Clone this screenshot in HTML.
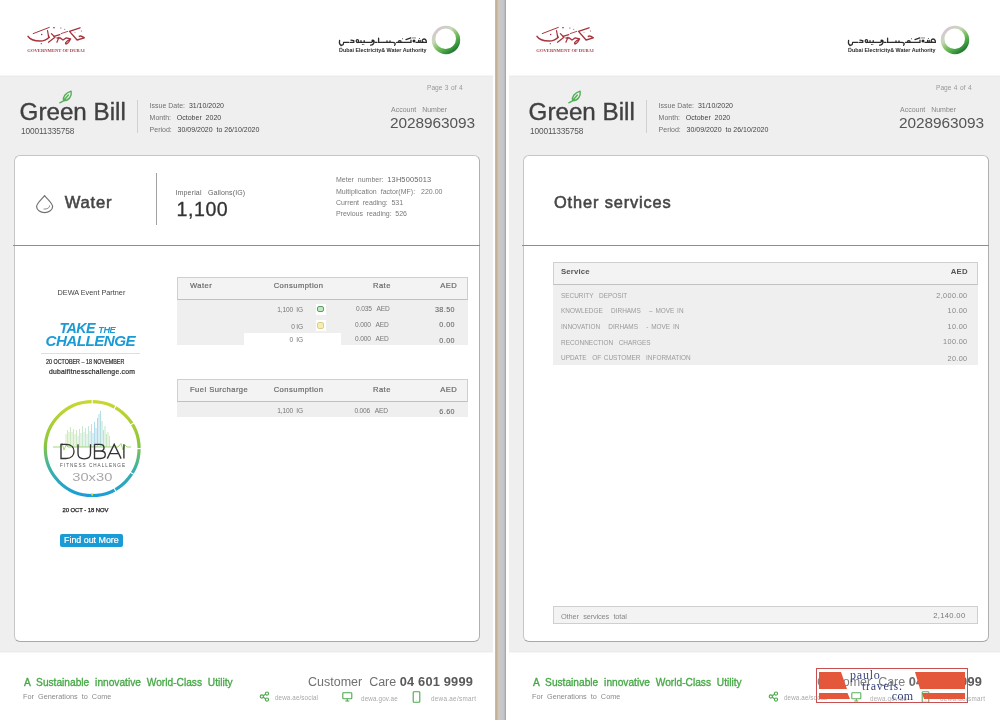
<!DOCTYPE html>
<html><head><meta charset="utf-8"><style>
*{margin:0;padding:0;box-sizing:border-box}
html,body{width:1000px;height:720px;overflow:hidden;background:#fff;font-family:"Liberation Sans",sans-serif}
.root{position:absolute;left:0;top:0;width:1000px;height:720px;overflow:hidden;background:#fff;will-change:transform}
.pg{position:absolute;top:0;width:493px;height:720px;background:#fff}
.a{position:absolute;white-space:nowrap;line-height:1}
.band{position:absolute;left:0;top:75px;width:493px;height:578px;background:linear-gradient(#f6f6f6 0,#f6f6f6 1px,#ebebeb 1px,#ebebeb 2px,#efefef 2px,#efefef 576px,#ebebeb 576px,#ebebeb 577px,#f6f6f6 577px)}
.card{position:absolute;left:14px;top:155.2px;width:465.6px;height:486.4px;background:#fff;border:1.5px solid #c6c6c6;border-right-color:#b0b0b0;border-bottom-color:#a8a8a8;border-radius:6px}
.hline{position:absolute;left:13px;top:245px;width:467px;height:1px;background:#8e8e8e}
.divider{position:absolute;left:495px;top:0;width:11.2px;height:720px;background:linear-gradient(to right,#d6cbbd 0,#c2ae94 0.8px,#c6b299 2px,#cfc4b6 3px,#cdcac6 3.8px,#c9c9cb 5px,#c4c5c8 8.5px,#bdbec2 9.4px,#a7a8ad 10.2px,#a9aaae 10.8px,#dde2e4 11.2px)}
.th{position:absolute;left:177px;width:290.6px;height:22.6px;background:#f3f3f3;border:1px solid #cfcfcf;border-bottom:1.5px solid #c0c0c0}
.tb{position:absolute;left:177px;width:290.6px;background:#efefef}
.ht{font-size:7.6px;color:#6a6a6a;letter-spacing:0.45px;-webkit-text-stroke:0.2px #6a6a6a}
.rt{font-size:6.6px;color:#777;letter-spacing:-0.15px}
.am{font-size:7.2px;color:#606060;letter-spacing:0.42px;-webkit-text-stroke:0.05px #606060}
.ic{position:absolute;left:315.5px;width:10px;height:11px;background:#fff}
.ic i{position:absolute;left:1.8px;top:2px;width:6.4px;height:6.6px;border:1.4px solid;border-radius:2px}
.sv{left:52px;font-size:7.9px;color:#9a9a9a;letter-spacing:0px;word-spacing:1.2px;transform:scaleX(0.815);transform-origin:0 0}
.sa{right:34.5px;font-size:7.3px;color:#888;letter-spacing:0.35px}
</style></head><body>
<div class="root">
<div class="divider"></div>
<div class="pg" style="left:0px">
  <div class="band"></div>
  <div class="card"></div>
  <div class="hline"></div>
  <svg class="a" style="left:20px;top:20px" width="75" height="38" viewBox="20 20 75 38">
  <g fill="none" stroke="#a8343e" stroke-linecap="round" stroke-linejoin="round">
   <path d="M28,36.3 C30,39.5 34,40.8 40.2,41.1 C44,41 46.5,39.8 49.3,37.2" stroke-width="1.5"/>
   <path d="M33.2,33.6 L49.3,27.4" stroke-width="1"/>
   <path d="M47.5,30.7 L48.8,37.4" stroke-width="1.2"/>
   <path d="M51.4,33.6 L55,37.2 L48.5,42.2" stroke-width="1.3"/>
   <path d="M54,36.4 L59.8,34.6 M59,37.2 L56.9,42.2" stroke-width="1.2"/>
   <path d="M57,38 L60.1,37.9 L63,40 L66.3,37.9 L70.6,39 C69,42 67,44 65.9,44 C64.8,43.5 66,41.2 70.6,39" stroke-width="1.3"/>
   <path d="M80,27.8 L69.5,31.4 L77.1,40 L84.3,37.9 C82,36 80,35.8 79.3,36.4" stroke-width="1.4"/>
   <path d="M61.2,33.6 L67.7,31.4" stroke-width="0.9"/>
  </g>
  <g fill="#9e2a36"><circle cx="41.7" cy="34.5" r="0.75"/><circle cx="54" cy="27.8" r="0.7"/><circle cx="41.3" cy="43.7" r="0.6"/><circle cx="54" cy="27.4" r="0.5"/><circle cx="60.9" cy="28" r="0.6"/><circle cx="64.8" cy="29.2" r="0.5"/><circle cx="81.4" cy="31" r="0.5"/><circle cx="75" cy="32.5" r="0.4"/><circle cx="48.5" cy="36" r="0.8"/></g>
  <text x="56" y="52" text-anchor="middle" font-family="Liberation Serif" font-weight="bold" font-size="4.5" fill="#a8404a" textLength="57.4" lengthAdjust="spacingAndGlyphs">GOVERNMENT OF DUBAI</text>
</svg>
  <svg class="a" style="left:330px;top:18px" width="140" height="44" viewBox="330 18 140 44">
  <g fill="none" stroke="#2c2c2c" stroke-linecap="round" stroke-linejoin="round" stroke-width="1.3">
   <path d="M339.6,40.3 C339,43.5 340,45.6 342.2,45.2 C343.4,44.9 343.6,43.6 343.6,42.4 L349,42.4"/>
   <path d="M351,40.2 L353.8,40.6 L353.8,42.4 L350.6,42.4"/>
   <ellipse cx="357.4" cy="41.1" rx="1.2" ry="1.4"/>
   <path d="M358.6,42.4 L371.5,42.4 M361,42.4 L361,40.6 M364.2,42.4 L364.2,40.6"/>
   <path d="M374.1,41 C374.1,43.6 373,45 370.6,45.2"/>
   <path d="M378.6,38.2 L378.6,42.4 L384,42.4 M377,42.4 L375,42.4"/>
   <path d="M384,42.4 L392.6,42.4 C395,42.4 396,43.6 394.6,45.3 M387,42.4 L387,40.8 M390,42.4 L390,40.8"/>
   <path d="M396.6,42.4 L411,42.4 L411,40.2 M398.4,42.4 C398.4,40 401.2,40 401.2,42.4 M406,39.6 L410.8,37.9"/>
   <path d="M416,42.4 L426.4,42.4 M418.6,42.4 L418.6,40.4 M420.2,42.4 L420.2,40.4 M426.4,42.4 C426.6,39.4 424.4,38.3 422.8,39.6 C421.6,40.6 422.2,42.4 424.2,42.4"/>
  </g>
  <g fill="#222"><circle cx="372.8" cy="41" r="1.4"/><circle cx="414" cy="41" r="1.5"/><circle cx="413" cy="37.9" r="0.55"/><circle cx="415" cy="37.9" r="0.55"/><circle cx="362.4" cy="44.6" r="0.5"/><circle cx="363.8" cy="44.6" r="0.5"/><circle cx="341" cy="47" r="0.45"/><circle cx="419.4" cy="38.6" r="0.5"/><circle cx="402.6" cy="38.8" r="0.5"/></g>
  <text x="339" y="52" font-family="Liberation Sans" font-weight="bold" font-size="5.9" fill="#2a2a2a" textLength="87.6" lengthAdjust="spacingAndGlyphs">Dubai Electricity&amp; Water Authority</text>
  <defs>
   <linearGradient id="rgL" x1="0.15" y1="0.1" x2="0.8" y2="0.95">
    <stop offset="0" stop-color="#d8c4d6"/><stop offset="0.3" stop-color="#c8d8b8"/><stop offset="0.55" stop-color="#7cc060"/><stop offset="0.8" stop-color="#3c9a40"/><stop offset="1" stop-color="#1a6a2c"/>
   </linearGradient>
  </defs>
  <path fill-rule="evenodd" d="M431.8,40 A14.2,14.2 0 1 0 460.2,40 A14.2,14.2 0 1 0 431.8,40 Z M435.4,38.7 A10.3,10.3 0 1 0 456,38.7 A10.3,10.3 0 1 0 435.4,38.7 Z" fill="url(#rgL)"/>
</svg>
  <svg class="a" style="left:58px;top:89.8px" width="15.3" height="14.4" viewBox="0 0 17 16"><path d="M2,14.2 L6.2,12 M6.2,12 C5.2,7.5 8.5,3 14.6,1.3 C15.6,6.8 12.2,11.8 6.2,12 Z M6.6,11.4 L11.5,5.6" fill="none" stroke="#52b056" stroke-width="1.55" stroke-linecap="round" stroke-linejoin="round"/></svg>
  <div class="a" style="left:19.6px;top:100.3px;font-size:24.2px;color:#404040;-webkit-text-stroke:0.35px #404040">Green Bill</div>
  <div class="a" style="left:21px;top:127px;font-size:8.3px;color:#555;letter-spacing:-0.12px">100011335758</div>
  <div class="a" style="left:136.5px;top:100px;width:1px;height:33px;background:#d0d0d0"></div>
  <div class="a" style="left:149.6px;top:102px;font-size:7px;color:#707070">Issue Date:&nbsp; <span style="color:#444">31/10/2020</span></div>
  <div class="a" style="left:149.6px;top:114px;font-size:7px;color:#707070">Month:&nbsp;&nbsp; <span style="color:#444">October&nbsp; 2020</span></div>
  <div class="a" style="left:149.6px;top:126px;font-size:7px;color:#707070">Period:&nbsp;&nbsp; <span style="color:#444">30/09/2020&nbsp; to 26/10/2020</span></div>
  <div class="a" style="left:427px;top:84.6px;font-size:6.6px;color:#999;word-spacing:-0.6px">Page&nbsp; 3&nbsp; of&nbsp; 4</div>
  <div class="a" style="left:391px;top:105.9px;font-size:7px;color:#888">Account&nbsp;&nbsp; Number</div>
  <div class="a" style="left:390px;top:115px;font-size:15.4px;color:#555;letter-spacing:-0.05px">2028963093</div>

  <svg class="a" style="left:35px;top:193.8px" width="20" height="20" viewBox="0 0 20 20"><path d="M9.6,1.6 C6.4,5.6 1.6,9.3 1.6,12.6 A8,6 0 0 0 17.6,12.6 C17.6,9.3 12.8,5.6 9.6,1.6 Z" fill="none" stroke="#727272" stroke-width="1.2"/><path d="M14.6,11.4 C14.6,13.8 12.4,15.3 8.6,15" fill="none" stroke="#8a8a8a" stroke-width="1"/></svg>
  <div class="a" style="left:64.8px;top:194.6px;font-size:16.6px;color:#454545;-webkit-text-stroke:0.55px #454545;letter-spacing:0.75px">Water</div>
  <div class="a" style="left:155.7px;top:172.5px;width:1.5px;height:52px;background:#a3a3a3"></div>
  <div class="a" style="left:175.5px;top:189px;font-size:7px;color:#666;letter-spacing:0.15px">Imperial&nbsp;&nbsp; Gallons(IG)</div>
  <div class="a" style="left:176.5px;top:199.5px;font-size:19.6px;color:#333;letter-spacing:0.55px;-webkit-text-stroke:0.3px #333">1,100</div>
  <div class="a" style="left:336px;top:176.3px;font-size:7px;color:#7a7a7a;line-height:1">Meter&nbsp; number:&nbsp; <span style="font-size:7.4px;color:#666;letter-spacing:0.15px">13H5005013</span></div>
  <div class="a" style="left:336px;top:187.8px;font-size:7px;color:#7a7a7a;letter-spacing:0.02px">Multiplication&nbsp; factor(MF):&nbsp;&nbsp; 220.00</div>
  <div class="a" style="left:336px;top:199px;font-size:7px;color:#7a7a7a;letter-spacing:-0.05px">Current&nbsp; reading:&nbsp; 531</div>
  <div class="a" style="left:336px;top:210.2px;font-size:7px;color:#7a7a7a;letter-spacing:-0.05px">Previous&nbsp; reading:&nbsp; 526</div>

  <!-- promo -->
  <div class="a" style="left:57.5px;top:289px;font-size:7.3px;color:#444">DEWA Event Partner</div>
  <div class="a" style="left:59.5px;top:320.5px;font-size:14.3px;font-weight:bold;font-style:italic;color:#1b9bd5;letter-spacing:-0.6px">TAKE <span style="font-size:9.2px;letter-spacing:-0.5px">THE</span></div>
  <div class="a" style="left:45.5px;top:333px;font-size:15.2px;font-weight:bold;font-style:italic;color:#1b9bd5;letter-spacing:-0.55px">CHALLENGE</div>
  <div class="a" style="left:41px;top:352.5px;width:99px;height:1px;background:#dfe6b5"></div>
  <div class="a" style="left:45.5px;top:359.1px;font-size:6.3px;color:#2a2a2a;-webkit-text-stroke:0.2px #2a2a2a;letter-spacing:0px;transform:scaleX(0.855);transform-origin:0 0">20 OCTOBER &#8211; 18 NOVEMBER</div>
  <div class="a" style="left:49px;top:368.6px;font-size:6.8px;color:#2a2a2a;-webkit-text-stroke:0.2px #2a2a2a;letter-spacing:0.24px">dubaifitnesschallenge.com</div>

  <svg class="a" style="left:40px;top:396px" width="105" height="105" viewBox="0 0 105 105">
   <defs>
    <linearGradient id="dg" x1="0" y1="0" x2="0" y2="1"><stop offset="0" stop-color="#c9d72f"/><stop offset="0.45" stop-color="#8cc63f"/><stop offset="0.7" stop-color="#3cb3a4"/><stop offset="1" stop-color="#1b9dd8"/></linearGradient>
    <linearGradient id="eqg" x1="0" y1="0" x2="1" y2="0"><stop offset="0" stop-color="#8ccc50"/><stop offset="0.5" stop-color="#7cc6a0"/><stop offset="0.7" stop-color="#2aa0dc"/><stop offset="1" stop-color="#8ccc50"/></linearGradient>
   </defs>
   <circle cx="52.2" cy="52.6" r="46.9" fill="none" stroke="url(#dg)" stroke-width="3.2"/>
   <g stroke="#fff" stroke-width="1.1">
    <path d="M52.2,2 L52.2,8"/><path d="M76.6,8.5 L73.6,13.7"/><path d="M94.5,26.4 L89.3,29.4"/><path d="M101,52.6 L95,52.6"/><path d="M94.5,78.8 L89.3,75.8"/><path d="M76.6,96.7 L73.6,91.5"/>
   </g>
   <path d="M50.6,97.5 L53.8,97.5 L52.2,100.5 Z" fill="#c9d72f"/>
   <g stroke="url(#eqg)" stroke-width="0.55" opacity="0.75">
    <path d="M26,51 L26,38 M27.5,51 L27.5,34 M29,51 L29,36 M30.5,51 L30.5,31 M32,51 L32,36 M33.5,51 L33.5,33 M35,51 L35,38 M36.5,51 L36.5,34 M38,51 L38,40 M39.5,51 L39.5,33 M41,51 L41,37 M42.5,51 L42.5,30 M44,51 L44,36 M45.5,51 L45.5,32 M47,51 L47,38 M48.5,51 L48.5,30 M50,51 L50,35 M51.5,51 L51.5,28 M53,51 L53,37 M54.5,51 L54.5,26 M56,51 L56,32 M57.5,51 L57.5,22 M59,51 L59,18 M60.5,51 L60.5,15 M62,51 L62,25 M63.5,51 L63.5,34 M65,51 L65,30 M66.5,51 L66.5,38 M68,51 L68,36 M69.5,51 L69.5,40"/>
   </g>
   <path d="M13,51 L20,51 L22,47 L24,54 L26,49 L28,51 L78,51 L81,47.5 L83,54 L85,49 L87,51 L91,51" fill="none" stroke="#8ccc50" stroke-width="0.8"/>
   <g fill="none" stroke="#333" stroke-width="1.35" stroke-linejoin="miter">
    <path d="M21,48.3 L21,62.5 L26,62.5 C31.5,62.5 34,59 34,55.4 C34,51.8 31.5,48.3 26,48.3 Z"/>
    <path d="M38,48.3 L38,57.5 C38,61 40.5,62.8 44.2,62.8 C48,62.8 50.5,61 50.5,57.5 L50.5,48.3"/>
    <path d="M54.5,48.3 L54.5,62.5 L60.5,62.5 C63.5,62.5 65.3,61 65.3,58.6 C65.3,56.3 63.5,55 60.5,55 L54.5,55 M54.5,55 L60,55 C62.5,55 64,53.7 64,51.7 C64,49.6 62.5,48.3 60,48.3 L54.5,48.3"/>
    <path d="M67.3,62.6 L74.2,48.3 L81.1,62.6 M69.8,57.6 L78.6,57.6"/>
    <path d="M83.9,48.3 L83.9,62.6"/>
   </g>
   <text x="52.5" y="71.2" text-anchor="middle" font-family="Liberation Sans" font-size="4.6" fill="#555" textLength="65" lengthAdjust="spacing">FITNESS CHALLENGE</text>
   <text x="52.3" y="85.4" text-anchor="middle" font-family="Liberation Sans" font-size="11.3" fill="#a8a8a8" textLength="40" lengthAdjust="spacingAndGlyphs">30x30</text>
  </svg>
  <div class="a" style="left:62.5px;top:507.8px;font-size:5.9px;color:#222;-webkit-text-stroke:0.25px #222;letter-spacing:-0.05px">20 OCT - 18 NOV</div>
  <div class="a" style="left:59.7px;top:533.6px;width:63.6px;height:13.4px;background:#1b9bd5;border-radius:2px"></div>
  <div class="a" style="left:64px;top:536.3px;font-size:8.9px;color:#fff;-webkit-text-stroke:0.2px #fff;letter-spacing:0px">Find out More</div>

  <!-- water table -->
  <div class="th" style="top:277px"></div>
  <div class="tb" style="top:300px;height:45.3px"></div>
  <div class="a" style="left:243.6px;top:333.2px;width:97.5px;height:12.1px;background:#fff"></div>
  <div class="a ht" style="left:190px;top:282px">Water</div>
  <div class="a ht" style="left:273.7px;top:282px">Consumption</div>
  <div class="a ht" style="left:373px;top:282px">Rate</div>
  <div class="a ht" style="left:440.3px;top:282px">AED</div>
  <div class="a rt" style="right:190px;top:307px">1,100&nbsp; IG</div>
  <div class="a rt" style="right:190px;top:324px">0 IG</div>
  <div class="a rt" style="right:190px;top:336.5px">0&nbsp; IG</div>
  <div class="ic" style="top:303.5px"><i style="border-color:#5e9c6c;background:#bdebbd"></i></div>
  <div class="ic" style="top:320px"><i style="border-color:#d9cf8c;background:#f6eeb0"></i></div>
  <div class="a rt" style="left:356px;top:306px">0.035&nbsp;&nbsp; AED</div>
  <div class="a rt" style="left:355px;top:321.5px">0.000&nbsp;&nbsp; AED</div>
  <div class="a rt" style="left:355px;top:335.5px">0.000&nbsp;&nbsp; AED</div>
  <div class="a am" style="right:38px;top:305.5px">38.50</div>
  <div class="a am" style="right:38px;top:321px">0.00</div>
  <div class="a am" style="right:38px;top:336.5px">0.00</div>

  <!-- fuel table -->
  <div class="th" style="top:379px"></div>
  <div class="tb" style="top:401.5px;height:15.4px"></div>
  <div class="a ht" style="left:190px;top:385.5px">Fuel Surcharge</div>
  <div class="a ht" style="left:273.7px;top:385.5px">Consumption</div>
  <div class="a ht" style="left:373px;top:385.5px">Rate</div>
  <div class="a ht" style="left:440.3px;top:385.5px">AED</div>
  <div class="a rt" style="right:190px;top:408px">1,100&nbsp; IG</div>
  <div class="a rt" style="left:354.4px;top:408px">0.006&nbsp;&nbsp; AED</div>
  <div class="a am" style="right:38px;top:407.5px">6.60</div>

  <div class="a" style="left:23.8px;top:676.6px;font-size:11.3px;color:#46a846;-webkit-text-stroke:0.35px #46a846;letter-spacing:0px;word-spacing:3.4px;transform:scaleX(0.9);transform-origin:0 0">A Sustainable innovative World-Class Utility</div>
  <div class="a" style="left:23px;top:693px;font-size:7.3px;color:#8a8a8a;word-spacing:2px">For Generations to Come</div>
  <div class="a" style="left:308px;top:675.5px;font-size:12.5px;color:#707070">Customer&nbsp; Care <span style="font-weight:bold;color:#5a5a5a;font-size:12.8px;letter-spacing:0.2px">04 601 9999</span></div>
  <svg class="a" style="left:259px;top:691px" width="11" height="11" viewBox="0 0 11 11"><g fill="none" stroke="#4aa84a" stroke-width="1.1"><circle cx="2.8" cy="5.5" r="1.6"/><circle cx="8" cy="2.6" r="1.6"/><circle cx="8" cy="8.6" r="1.6"/><path d="M4.2,4.7 L6.6,3.3 M4.2,6.3 L6.6,7.8"/></g></svg>
  <div class="a" style="left:275px;top:695.3px;font-size:6.3px;color:#a8a8a8;letter-spacing:0.1px">dewa.ae/social</div>
  <svg class="a" style="left:342px;top:692px" width="11" height="10" viewBox="0 0 11 10"><g fill="none" stroke="#4aa84a" stroke-width="1.1"><rect x="0.8" y="0.8" width="9" height="6" rx="0.8"/><path d="M5.3,7 L5.3,8.8 M3.3,9 L7.3,9"/></g></svg>
  <div class="a" style="left:361px;top:695.8px;font-size:6.3px;color:#a8a8a8;letter-spacing:0.15px">dewa.gov.ae</div>
  <svg class="a" style="left:412px;top:690.5px" width="9" height="12" viewBox="0 0 9 12"><g fill="none" stroke="#4aa84a" stroke-width="1.1"><rect x="1.2" y="0.8" width="6.6" height="10.4" rx="0.8"/><path d="M4.5,9.2 L4.5,9.4"/></g></svg>
  <div class="a" style="left:431px;top:695.8px;font-size:6.3px;color:#a8a8a8;letter-spacing:0.3px">dewa.ae/smart</div>
</div>
<div class="pg" style="left:509px">
  <div class="band"></div>
  <div class="card"></div>
  <div class="hline"></div>
  <svg class="a" style="left:20px;top:20px" width="75" height="38" viewBox="20 20 75 38">
  <g fill="none" stroke="#a8343e" stroke-linecap="round" stroke-linejoin="round">
   <path d="M28,36.3 C30,39.5 34,40.8 40.2,41.1 C44,41 46.5,39.8 49.3,37.2" stroke-width="1.5"/>
   <path d="M33.2,33.6 L49.3,27.4" stroke-width="1"/>
   <path d="M47.5,30.7 L48.8,37.4" stroke-width="1.2"/>
   <path d="M51.4,33.6 L55,37.2 L48.5,42.2" stroke-width="1.3"/>
   <path d="M54,36.4 L59.8,34.6 M59,37.2 L56.9,42.2" stroke-width="1.2"/>
   <path d="M57,38 L60.1,37.9 L63,40 L66.3,37.9 L70.6,39 C69,42 67,44 65.9,44 C64.8,43.5 66,41.2 70.6,39" stroke-width="1.3"/>
   <path d="M80,27.8 L69.5,31.4 L77.1,40 L84.3,37.9 C82,36 80,35.8 79.3,36.4" stroke-width="1.4"/>
   <path d="M61.2,33.6 L67.7,31.4" stroke-width="0.9"/>
  </g>
  <g fill="#9e2a36"><circle cx="41.7" cy="34.5" r="0.75"/><circle cx="54" cy="27.8" r="0.7"/><circle cx="41.3" cy="43.7" r="0.6"/><circle cx="54" cy="27.4" r="0.5"/><circle cx="60.9" cy="28" r="0.6"/><circle cx="64.8" cy="29.2" r="0.5"/><circle cx="81.4" cy="31" r="0.5"/><circle cx="75" cy="32.5" r="0.4"/><circle cx="48.5" cy="36" r="0.8"/></g>
  <text x="56" y="52" text-anchor="middle" font-family="Liberation Serif" font-weight="bold" font-size="4.5" fill="#a8404a" textLength="57.4" lengthAdjust="spacingAndGlyphs">GOVERNMENT OF DUBAI</text>
</svg>
  <svg class="a" style="left:330px;top:18px" width="140" height="44" viewBox="330 18 140 44">
  <g fill="none" stroke="#2c2c2c" stroke-linecap="round" stroke-linejoin="round" stroke-width="1.3">
   <path d="M339.6,40.3 C339,43.5 340,45.6 342.2,45.2 C343.4,44.9 343.6,43.6 343.6,42.4 L349,42.4"/>
   <path d="M351,40.2 L353.8,40.6 L353.8,42.4 L350.6,42.4"/>
   <ellipse cx="357.4" cy="41.1" rx="1.2" ry="1.4"/>
   <path d="M358.6,42.4 L371.5,42.4 M361,42.4 L361,40.6 M364.2,42.4 L364.2,40.6"/>
   <path d="M374.1,41 C374.1,43.6 373,45 370.6,45.2"/>
   <path d="M378.6,38.2 L378.6,42.4 L384,42.4 M377,42.4 L375,42.4"/>
   <path d="M384,42.4 L392.6,42.4 C395,42.4 396,43.6 394.6,45.3 M387,42.4 L387,40.8 M390,42.4 L390,40.8"/>
   <path d="M396.6,42.4 L411,42.4 L411,40.2 M398.4,42.4 C398.4,40 401.2,40 401.2,42.4 M406,39.6 L410.8,37.9"/>
   <path d="M416,42.4 L426.4,42.4 M418.6,42.4 L418.6,40.4 M420.2,42.4 L420.2,40.4 M426.4,42.4 C426.6,39.4 424.4,38.3 422.8,39.6 C421.6,40.6 422.2,42.4 424.2,42.4"/>
  </g>
  <g fill="#222"><circle cx="372.8" cy="41" r="1.4"/><circle cx="414" cy="41" r="1.5"/><circle cx="413" cy="37.9" r="0.55"/><circle cx="415" cy="37.9" r="0.55"/><circle cx="362.4" cy="44.6" r="0.5"/><circle cx="363.8" cy="44.6" r="0.5"/><circle cx="341" cy="47" r="0.45"/><circle cx="419.4" cy="38.6" r="0.5"/><circle cx="402.6" cy="38.8" r="0.5"/></g>
  <text x="339" y="52" font-family="Liberation Sans" font-weight="bold" font-size="5.9" fill="#2a2a2a" textLength="87.6" lengthAdjust="spacingAndGlyphs">Dubai Electricity&amp; Water Authority</text>
  <defs>
   <linearGradient id="rgR" x1="0.15" y1="0.1" x2="0.8" y2="0.95">
    <stop offset="0" stop-color="#d8c4d6"/><stop offset="0.3" stop-color="#c8d8b8"/><stop offset="0.55" stop-color="#7cc060"/><stop offset="0.8" stop-color="#3c9a40"/><stop offset="1" stop-color="#1a6a2c"/>
   </linearGradient>
  </defs>
  <path fill-rule="evenodd" d="M431.8,40 A14.2,14.2 0 1 0 460.2,40 A14.2,14.2 0 1 0 431.8,40 Z M435.4,38.7 A10.3,10.3 0 1 0 456,38.7 A10.3,10.3 0 1 0 435.4,38.7 Z" fill="url(#rgR)"/>
</svg>
  <svg class="a" style="left:58px;top:89.8px" width="15.3" height="14.4" viewBox="0 0 17 16"><path d="M2,14.2 L6.2,12 M6.2,12 C5.2,7.5 8.5,3 14.6,1.3 C15.6,6.8 12.2,11.8 6.2,12 Z M6.6,11.4 L11.5,5.6" fill="none" stroke="#52b056" stroke-width="1.55" stroke-linecap="round" stroke-linejoin="round"/></svg>
  <div class="a" style="left:19.6px;top:100.3px;font-size:24.2px;color:#404040;-webkit-text-stroke:0.35px #404040">Green Bill</div>
  <div class="a" style="left:21px;top:127px;font-size:8.3px;color:#555;letter-spacing:-0.12px">100011335758</div>
  <div class="a" style="left:136.5px;top:100px;width:1px;height:33px;background:#d0d0d0"></div>
  <div class="a" style="left:149.6px;top:102px;font-size:7px;color:#707070">Issue Date:&nbsp; <span style="color:#444">31/10/2020</span></div>
  <div class="a" style="left:149.6px;top:114px;font-size:7px;color:#707070">Month:&nbsp;&nbsp; <span style="color:#444">October&nbsp; 2020</span></div>
  <div class="a" style="left:149.6px;top:126px;font-size:7px;color:#707070">Period:&nbsp;&nbsp; <span style="color:#444">30/09/2020&nbsp; to 26/10/2020</span></div>
  <div class="a" style="left:427px;top:84.6px;font-size:6.6px;color:#999;word-spacing:-0.6px">Page&nbsp; 4&nbsp; of&nbsp; 4</div>
  <div class="a" style="left:391px;top:105.9px;font-size:7px;color:#888">Account&nbsp;&nbsp; Number</div>
  <div class="a" style="left:390px;top:115px;font-size:15.4px;color:#555;letter-spacing:-0.05px">2028963093</div>

  <div class="a" style="left:45px;top:194.3px;font-size:16.4px;color:#454545;-webkit-text-stroke:0.55px #454545;letter-spacing:0.85px">Other services</div>
  <div class="a" style="left:44.3px;top:262px;width:425.2px;height:23px;background:#f3f3f3;border:1px solid #cfcfcf;border-bottom:1.5px solid #c2c2c2"></div>
  <div class="a" style="left:44.3px;top:285px;width:425.2px;height:79.6px;background:#efefef"></div>
  <div class="a" style="left:52px;top:268.3px;font-size:7.8px;font-weight:bold;color:#555;letter-spacing:0.15px">Service</div>
  <div class="a" style="right:34.2px;top:268.3px;font-size:7.8px;font-weight:bold;color:#555;letter-spacing:0.2px">AED</div>
  <div class="a sv" style="top:291.8px">SECURITY&nbsp; DEPOSIT</div>
  <div class="a sv" style="top:307.2px">KNOWLEDGE&nbsp;&nbsp; DIRHAMS&nbsp;&nbsp; &#8211; MOVE IN</div>
  <div class="a sv" style="top:323.2px">INNOVATION&nbsp;&nbsp; DIRHAMS&nbsp;&nbsp; - MOVE IN</div>
  <div class="a sv" style="top:338.7px">RECONNECTION&nbsp; CHARGES</div>
  <div class="a sv" style="top:354.2px">UPDATE&nbsp; OF CUSTOMER&nbsp; INFORMATION</div>
  <div class="a sa" style="top:291.5px">2,000.00</div>
  <div class="a sa" style="top:307px">10.00</div>
  <div class="a sa" style="top:322.5px">10.00</div>
  <div class="a sa" style="top:338px">100.00</div>
  <div class="a sa" style="top:355px">20.00</div>
  <div class="a" style="left:44.3px;top:606px;width:425.2px;height:17.6px;background:#f3f3f3;border:1px solid #cfcfcf"></div>
  <div class="a" style="left:52px;top:612.7px;font-size:7.4px;color:#888;letter-spacing:-0.15px;word-spacing:2.5px">Other services total</div>
  <div class="a" style="right:36.5px;top:612.3px;font-size:7.6px;color:#777;letter-spacing:0.35px">2,140.00</div>

  <div class="a" style="left:23.8px;top:676.6px;font-size:11.3px;color:#46a846;-webkit-text-stroke:0.35px #46a846;letter-spacing:0px;word-spacing:3.4px;transform:scaleX(0.9);transform-origin:0 0">A Sustainable innovative World-Class Utility</div>
  <div class="a" style="left:23px;top:693px;font-size:7.3px;color:#8a8a8a;word-spacing:2px">For Generations to Come</div>
  <div class="a" style="left:308px;top:675.5px;font-size:12.5px;color:#707070">Customer&nbsp; Care <span style="font-weight:bold;color:#5a5a5a;font-size:12.8px;letter-spacing:0.2px">04 601 9999</span></div>
  <svg class="a" style="left:259px;top:691px" width="11" height="11" viewBox="0 0 11 11"><g fill="none" stroke="#4aa84a" stroke-width="1.1"><circle cx="2.8" cy="5.5" r="1.6"/><circle cx="8" cy="2.6" r="1.6"/><circle cx="8" cy="8.6" r="1.6"/><path d="M4.2,4.7 L6.6,3.3 M4.2,6.3 L6.6,7.8"/></g></svg>
  <div class="a" style="left:275px;top:695.3px;font-size:6.3px;color:#a8a8a8;letter-spacing:0.1px">dewa.ae/social</div>
  <svg class="a" style="left:342px;top:692px" width="11" height="10" viewBox="0 0 11 10"><g fill="none" stroke="#4aa84a" stroke-width="1.1"><rect x="0.8" y="0.8" width="9" height="6" rx="0.8"/><path d="M5.3,7 L5.3,8.8 M3.3,9 L7.3,9"/></g></svg>
  <div class="a" style="left:361px;top:695.8px;font-size:6.3px;color:#a8a8a8;letter-spacing:0.15px">dewa.gov.ae</div>
  <svg class="a" style="left:412px;top:690.5px" width="9" height="12" viewBox="0 0 9 12"><g fill="none" stroke="#4aa84a" stroke-width="1.1"><rect x="1.2" y="0.8" width="6.6" height="10.4" rx="0.8"/><path d="M4.5,9.2 L4.5,9.4"/></g></svg>
  <div class="a" style="left:431px;top:695.8px;font-size:6.3px;color:#a8a8a8;letter-spacing:0.3px">dewa.ae/smart</div>
</div>

<div class="a" style="left:816.4px;top:667.6px;width:151.2px;height:35.2px;border:1px solid #c85050;background:rgba(255,255,255,0.1)"></div>
<svg class="a" style="left:816px;top:668px" width="152" height="35" viewBox="0 0 152 35">
 <path d="M3,4 L25,4 L31,21 L3,21 Z" fill="#e4573a"/>
 <path d="M3,25 L31.5,25 L34,31 L3,31 Z" fill="#e4573a"/>
 <path d="M99,4 L149,4 L149,21 L104,21 Z" fill="#e4573a"/>
 <path d="M106,25 L149,25 L149,31 L108,31 Z" fill="#e4573a"/>
 <text x="34" y="11" font-family="Liberation Serif" font-size="12" fill="#142262" stroke="#fff" stroke-width="0.12" letter-spacing="0.8">paulo</text>
 <text x="46" y="21.7" font-family="Liberation Serif" font-size="12" fill="#142262" stroke="#fff" stroke-width="0.12" letter-spacing="0.7">travels.</text>
 <text x="75.8" y="31.6" font-family="Liberation Serif" font-size="12" fill="#142262" stroke="#fff" stroke-width="0.12" letter-spacing="0.3">com</text>
</svg>

</div>
</body></html>
